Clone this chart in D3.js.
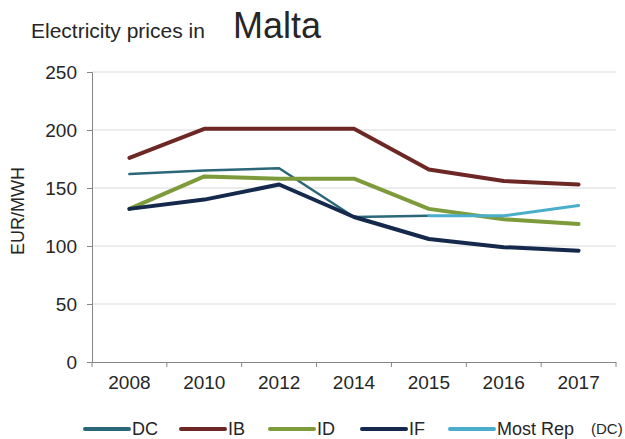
<!DOCTYPE html>
<html>
<head>
<meta charset="utf-8">
<script src="https://cdn.jsdelivr.net/npm/d3@7"></script>
<style>
  html, body { margin: 0; padding: 0; background: #ffffff; }
  svg { display: block; }
  text { font-family: "Liberation Sans", Arial, sans-serif; fill: #262626; }
</style>
</head>
<body>
<svg id="chart" width="625" height="439"></svg>
<script>
// ---- data ----
const years = ["2008", "2010", "2012", "2014", "2015", "2016", "2017"];
const dcValues      = [162, 165, 167, 125, 126, null, null];
const ibValues      = [176, 201, 201, 201, 166, 156, 153];
const idValues      = [132, 160, 158, 158, 132, 123, 119];
const ifValues      = [132, 140, 153, 125, 106, 99, 96];
const mostRepValues = [null, null, null, null, 126, 126, 135];
const yTicks = [0, 50, 100, 150, 200, 250];
const seriesNames = ["DC", "IB", "ID", "IF", "Most Rep"];

const series = [
  { name: seriesNames[0], values: dcValues,      color: "#2b6778", width: 2.5 },
  { name: seriesNames[1], values: ibValues,      color: "#6d2825", width: 4 },
  { name: seriesNames[2], values: idValues,      color: "#7d9b3b", width: 4 },
  { name: seriesNames[3], values: ifValues,      color: "#14294b", width: 4 },
  { name: seriesNames[4], values: mostRepValues, color: "#4aaecb", width: 3 }
];

const svg = d3.select("#chart");
const plotLeft = 92, plotRight = 616, plotTop = 72, plotBottom = 362;

const x = d3.scaleBand().domain(years).range([plotLeft, plotRight]);
const y = d3.scaleLinear().domain([0, 250]).range([plotBottom, plotTop]);

// gridlines
svg.append("g").selectAll("line")
  .data(yTicks.filter(d => d > 0))
  .join("line")
  .attr("x1", plotLeft).attr("x2", plotRight)
  .attr("y1", d => y(d)).attr("y2", d => y(d))
  .attr("stroke", "#d9d9d9").attr("stroke-width", 1);

// y axis
const yAxis = svg.append("g")
  .attr("transform", `translate(${plotLeft},0)`)
  .call(d3.axisLeft(y).tickValues(yTicks).tickSize(5).tickPadding(10));
yAxis.select(".domain").attr("stroke", "#868686");
yAxis.selectAll(".tick line").attr("stroke", "#868686");
yAxis.selectAll(".tick text")
  .attr("font-size", 19)
  .attr("fill", "#404040")
  .attr("font-family", "Liberation Sans, Arial, sans-serif");

// x axis
const xAxis = svg.append("g")
  .attr("transform", `translate(0,${plotBottom})`)
  .call(d3.axisBottom(x).tickSize(0).tickPadding(14));
xAxis.select(".domain").attr("stroke", "#868686").attr("d", `M${plotLeft - 5},0.5H${plotRight}`);
xAxis.selectAll(".tick text")
  .attr("font-size", 19)
  .attr("fill", "#262626")
  .attr("font-family", "Liberation Sans, Arial, sans-serif");
// tick marks at band boundaries
const boundaries = years.map(d => x(d)).concat([plotRight]);
svg.append("g").selectAll("line")
  .data(boundaries)
  .join("line")
  .attr("x1", d => d).attr("x2", d => d)
  .attr("y1", plotBottom).attr("y2", plotBottom + 5)
  .attr("stroke", "#868686");

// lines
const line = d3.line()
  .defined(d => d.v !== null)
  .x(d => x(d.year) + x.bandwidth() / 2)
  .y(d => y(d.v));

svg.append("g").selectAll("path")
  .data(series)
  .join("path")
  .attr("d", s => line(years.map((yr, i) => ({ year: yr, v: s.values[i] }))))
  .attr("fill", "none")
  .attr("stroke", s => s.color)
  .attr("stroke-width", s => s.width)
  .attr("stroke-linejoin", "round")
  .attr("stroke-linecap", "round");

// title
svg.append("text")
  .attr("x", 31).attr("y", 38)
  .attr("font-size", 21)
  .attr("fill", "#000")
  .text("Electricity prices in");
svg.append("text")
  .attr("x", 233).attr("y", 38)
  .attr("font-size", 36)
  .attr("fill", "#000")
  .text("Malta");

// y label
svg.append("text")
  .attr("transform", "translate(24,211) rotate(-90)")
  .attr("text-anchor", "middle")
  .attr("font-size", 18)
  .attr("fill", "#000")
  .text("EUR/MWH");

// legend
const legendX = [85, 181, 270, 362, 450];
const legY = 429;
const leg = svg.append("g").selectAll("g")
  .data(series)
  .join("g")
  .attr("transform", (s, i) => `translate(${legendX[i]},${legY})`);
leg.append("line")
  .attr("x1", 0).attr("x2", 44)
  .attr("y1", 0).attr("y2", 0)
  .attr("stroke", s => s.color)
  .attr("stroke-width", 4)
  .attr("stroke-linecap", "round");
leg.append("text")
  .attr("x", 47).attr("y", 0)
  .attr("dy", "0.35em")
  .attr("font-size", 18)
  .attr("fill", "#262626")
  .text(s => s.name);
svg.append("text")
  .attr("x", 591).attr("y", legY)
  .attr("dy", "0.35em")
  .attr("font-size", 15)
  .attr("font-family", "Liberation Serif, serif")
  .attr("fill", "#000")
  .text("(DC)");
</script>
</body>
</html>
